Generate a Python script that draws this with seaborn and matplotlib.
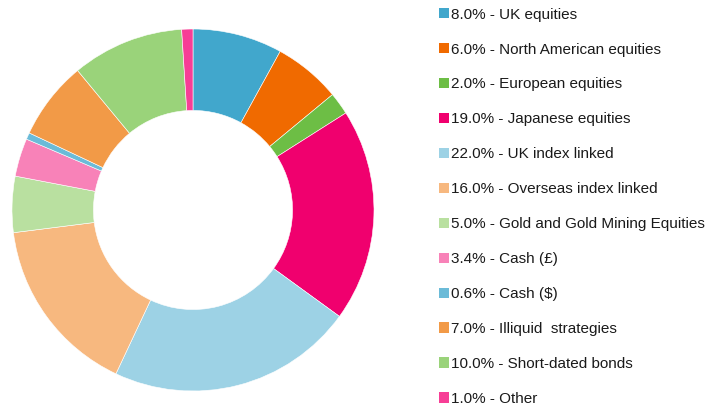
import matplotlib
matplotlib.use("Agg")
import matplotlib.pyplot as plt
from matplotlib.patches import Patch
import seaborn as sns

categories = ["UK equities", "North American equities", "European equities",
              "Japanese equities", "UK index linked", "Overseas index linked",
              "Gold and Gold Mining Equities", "Cash (£)", "Cash ($)",
              "Illiquid  strategies", "Short-dated bonds", "Other"]
values = [8.0, 6.0, 2.0, 19.0, 22.0, 16.0, 5.0, 3.4, 0.6, 7.0, 10.0, 1.0]
colors = ["#41A7CC", "#F06A00", "#6DBE45", "#F0006E", "#9DD2E5", "#F7B87F",
          "#B9E0A0", "#F882B8", "#6BBBD8", "#F29A47", "#9AD37A", "#F73E96"]

sns.set_theme(style="white")
plt.rcParams["font.family"] = ["Liberation Sans", "DejaVu Sans"]
palette = sns.color_palette(colors)

fig = plt.figure(figsize=(7.07, 4.08), dpi=100)
ax = fig.add_axes([12/707, 17/408, 362/707, 362/408])
ax.pie(values, colors=palette, startangle=90, counterclock=False,
       wedgeprops=dict(width=0.45, edgecolor="white", linewidth=0.4))
ax.set_xlim(-1, 1)
ax.set_ylim(-1, 1)
ax.set_aspect("equal")
ax.axis("off")

labels = [f"{v:.1f}% - {c}" for v, c in zip(values, categories)]
handles = [Patch(facecolor=c, edgecolor="none") for c in palette]
fig.legend(handles, labels, loc="upper left", bbox_to_anchor=(434.5/707, 405/408),
           frameon=False, fontsize=11, handlelength=0.65, handleheight=0.65,
           handletextpad=0.15, labelspacing=1.37, borderaxespad=0.0,
           borderpad=0.3, labelcolor="#1a1a1a")

fig.savefig("out.png", dpi=100)
